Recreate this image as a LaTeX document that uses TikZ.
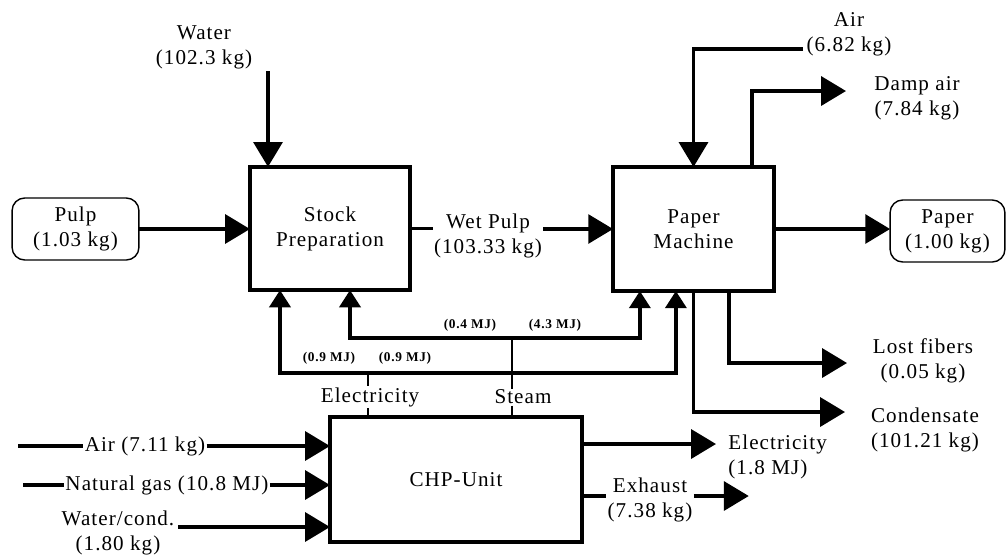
\documentclass[tikz,border=0pt]{standalone}
\usepackage{fontspec}
\setmainfont{Liberation Serif}[LetterSpace=5]
\usetikzlibrary{arrows.meta}
\begin{document}
\begin{tikzpicture}[x=0.025cm,y=-0.025cm,inner sep=1pt,outer sep=0pt,line width=2.6pt,
font=\fontsize{15}{17.8}\selectfont,
procblock/.style={draw,rectangle,line width=2.8pt,align=center},
endblock/.style={draw,rectangle,rounded corners=9pt,line width=1pt,align=center},
flowtext/.style={align=center},
mjtext/.style={font=\fontsize{9.5}{11}\selectfont\bfseries},
flow/.style={-{Triangle[length=0.62cm,width=0.72cm]}},
energy/.style={-{Triangle[length=0.43cm,width=0.53cm]},line width=2.3pt},
tap/.style={line width=0.9pt}]
\useasboundingbox (0,0) rectangle (1006,554);
% blocks
\draw (330,228.5) node[procblock,minimum width=4cm,minimum height=3.08cm] (stock) {Stock\\Preparation};
\draw (693.5,229) node[procblock,minimum width=4.02cm,minimum height=3.1cm] (pm) {Paper\\Machine};
\draw (456,479.5) node[procblock,minimum width=6.3cm,minimum height=3.125cm] (chp) {CHP-Unit};
\draw (75.5,229) node[endblock,minimum width=3.17cm,minimum height=1.55cm] (pulp) {Pulp\\(1.03 kg)};
\draw (947.5,231) node[endblock,minimum width=2.87cm,minimum height=1.55cm] (paper) {Paper\\(1.00 kg)};
% material flows
\draw[flow] (pulp.east) -- (pulp.east -| stock.west);
\draw (204,47) node[flowtext] (water) {Water\\(102.3 kg)};
\coordinate (waterin) at (268,71);
\draw[flow] (waterin) -- (waterin |- stock.north);
\draw (488,236) node[flowtext] (wetpulp) {Wet Pulp\\(103.33 kg)};
\draw (stock.east) -- (stock.east -| wetpulp.west);
\draw[flow] (wetpulp.east |- pm.west) -- (pm.west);
\draw[flow] (pm.east) -- (pm.east -| paper.west);
\draw (849,34) node[flowtext] (airpm) {Air\\(6.82 kg)};
\coordinate (airpmin) at (803,49);
\draw[flow] (airpmin) -| (pm.north);
\draw (917,98) node[flowtext] (dampair) {Damp air\\(7.84 kg)};
\coordinate (dampout) at (846,91);
\draw[flow] (pm.north east) ++(-22,0) |- (dampout);
\draw (923,361) node[flowtext] (lostfib) {Lost fibers\\(0.05 kg)};
\coordinate (lostout) at (847,363);
\draw[flow] (pm.south east) ++(-45,0) |- (lostout);
\draw (925,430) node[flowtext] (condens) {Condensate\\(101.21 kg)};
\coordinate (condout) at (845,412);
\draw[flow] (pm.south) |- (condout);
% energy from CHP
\coordinate (elec) at (368,373);
\coordinate (steam) at (512,338);
\draw[energy] (elec) -| ([xshift=-1.25cm]stock.south);
\draw[energy] (elec) -| ([xshift=-0.44cm]pm.south);
\draw[energy] (steam) -| ([xshift=0.5cm]stock.south);
\draw[energy] (steam) -| ([xshift=-1.34cm]pm.south);
\draw (329,358) node[mjtext] (elecstock) {(0.9 MJ)};
\draw (405,358) node[mjtext] (elecpm) {(0.9 MJ)};
\draw (470,325) node[mjtext] (steamstock) {(0.4 MJ)};
\draw (555,325) node[mjtext] (steampm) {(4.3 MJ)};
\draw (370,397) node (eleclbl) {Electricity};
\draw[tap] (elec) -- (elec |- eleclbl.north);
\draw[tap] (elec |- eleclbl.south) -- (elec |- chp.north);
\draw (523,397) node (steamlbl) {Steam};
\draw[tap] (steam) -- (steam |- steamlbl.north);
\draw[tap] (steam |- steamlbl.south) -- (steam |- chp.north);
% CHP inputs
\draw (145,446) node (airchp) {Air (7.11 kg)};
\coordinate (airchpin) at (18,446);
\draw (airchpin) -- (airchp.west);
\draw[flow] (airchp.east) -- (airchp.east -| chp.west);
\draw (167,485) node (gas) {Natural gas (10.8 MJ)};
\coordinate (gasin) at (23,485);
\draw (gasin) -- (gas.west);
\draw[flow] (gas.east) -- (gas.east -| chp.west);
\draw (118,533) node[flowtext] (watchp) {Water/cond.\\(1.80 kg)};
\coordinate (watchpin) at (178,527);
\draw[flow] (watchpin) -- (watchpin -| chp.west);
% CHP outputs
\draw (727,457) node[anchor=west,align=left] (elecout) {Electricity\\(1.8 MJ)};
\coordinate (elecend) at (716,444);
\draw[flow] (chp.east |- elecend) -- (elecend);
\draw (650,500) node[flowtext] (exhaust) {Exhaust\\(7.38 kg)};
\draw (chp.east) ++(0,16.5) coordinate (exhstart) -- (exhstart -| exhaust.west);
\draw[flow] (exhstart -| exhaust.east) -- ++(55,0);
\end{tikzpicture}
\end{document}
